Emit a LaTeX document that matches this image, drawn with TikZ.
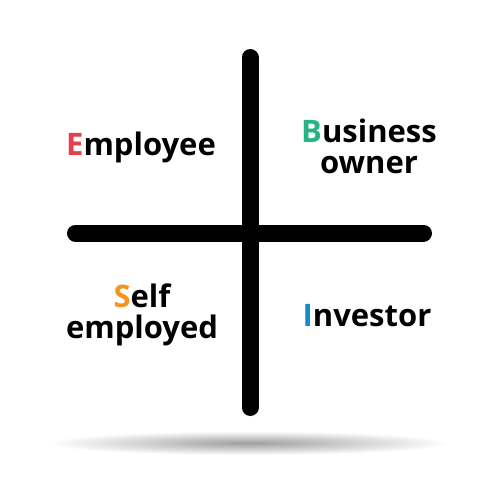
\documentclass[tikz,border=0pt]{standalone}
\usepackage{fontspec}
\setmainfont{Open Sans}
\definecolor{cE}{RGB}{232,62,76}
\definecolor{cB}{RGB}{40,180,130}
\definecolor{cS}{RGB}{246,146,30}
\definecolor{cI}{RGB}{22,140,200}
\tikzset{
  bar/.style={line width=17pt, line cap=round, black},
  lbl/.style={inner sep=0pt, anchor=base, align=center, font=\fontsize{31}{31}\selectfont\bfseries}
}
\begin{document}
\begin{tikzpicture}[x=1pt,y=-1pt]
\useasboundingbox (0,0) rectangle (500,500);
\shade[inner color=black!38, outer color=white] (249,443) ellipse [x radius=200, y radius=12];
\coordinate (vt) at (250,57.5);
\coordinate (vb) at (250,407.5);
\coordinate (hl) at (75.5,233);
\coordinate (hr) at (423.5,233);
\draw[bar] (vt) -- (vb);
\draw[bar] (hl) -- (hr);
\node[lbl] (emp) at (141,155) {\textcolor{cE}{E}mployee};
\node[lbl] (bus) at (369,173) {\textcolor{cB}{B}usiness\\owner};
\node[lbl] (self) at (142,338) {\textcolor{cS}{S}elf\\employed};
\node[lbl] (inv) at (367,326) {\textcolor{cI}{I}nvestor};
\end{tikzpicture}
\end{document}
